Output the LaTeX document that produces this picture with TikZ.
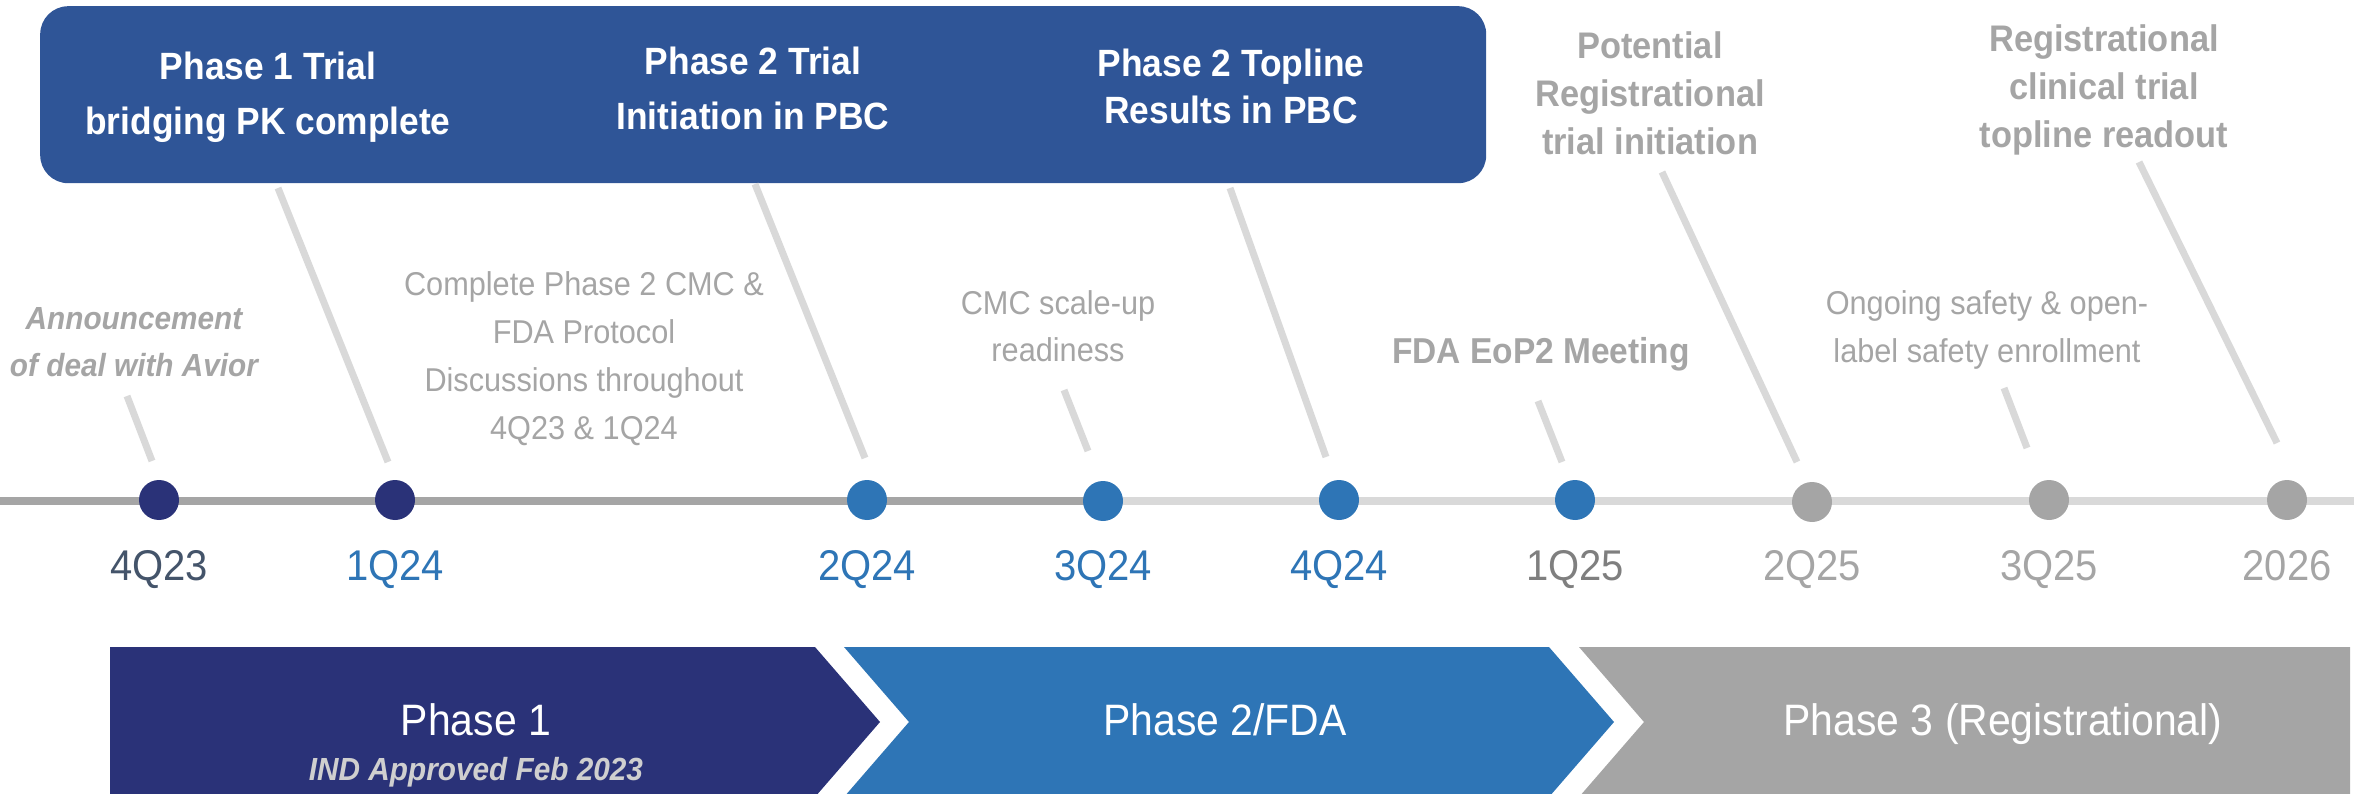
\documentclass[tikz,border=0pt]{standalone}
\usepackage{fontspec}
\setmainfont[FakeStretch=0.93]{Liberation Sans}
\usetikzlibrary{calc}

\definecolor{boxblue}{HTML}{2F5597}
\definecolor{navy}{HTML}{2A3278}
\definecolor{midblue}{HTML}{2E75B6}
\definecolor{gfive}{HTML}{A5A5A5}
\definecolor{gpale}{HTML}{D9D9D9}
\definecolor{slate}{HTML}{44546A}
\definecolor{gdark}{HTML}{7F7F7F}
\definecolor{indgrey}{HTML}{CFCFCF}

% first-line-baseline stack of centred lines
\newcommand{\stack}[1]{\begin{tabular}[t]{@{}c@{}}#1\end{tabular}}
\newcommand{\fsz}[2]{\fontsize{#1}{#2}\selectfont}

\begin{document}
\begin{tikzpicture}[x=1pt,y=-1pt,
  txt/.style={anchor=base, inner sep=0pt},
  hdr/.style={txt, text=white, font=\bfseries\fsz{38}{55}},
  gbold/.style={txt, text=gfive, font=\bfseries\fsz{37}{48}},
  note/.style={txt, text=gfive, font=\fsz{33}{48}},
  qlab/.style={txt, font=\fsz{43}{50}},
  phase/.style={txt, text=white, font=\fsz{44}{45}},
  dot/.style={circle, minimum size=40pt, inner sep=0pt},
  leader/.style={draw=gpale, line width=7pt},
  axis/.style={line width=8pt},
]
\useasboundingbox (0,0) rectangle (2354,794);

% milestone banner
\node[fill=boxblue, rounded corners=28pt, minimum width=1446pt, minimum height=177pt,
      anchor=north west, inner sep=0pt] (banner) at (40,6) {};

% leader lines
\coordinate (l1a) at (127,396);  \coordinate (l1b) at (152,461);
\coordinate (l2a) at (278,188);  \coordinate (l2b) at (388,462);
\coordinate (l3a) at (755,184);  \coordinate (l3b) at (865,458);
\coordinate (l4a) at (1064,390); \coordinate (l4b) at (1088,451);
\coordinate (l5a) at (1230,188); \coordinate (l5b) at (1326,457);
\coordinate (l6a) at (1538,401); \coordinate (l6b) at (1562,462);
\coordinate (l7a) at (1662,172); \coordinate (l7b) at (1797,462);
\coordinate (l8a) at (2004,388); \coordinate (l8b) at (2027,448);
\coordinate (l9a) at (2139,162); \coordinate (l9b) at (2277,443);
\foreach \i in {1,...,9} { \draw[leader] (l\i a) -- (l\i b); }

% timeline axis: elapsed part darker, up to the current quarter
\coordinate (tl0) at (0,501);
\coordinate (now) at (1103,501);
\coordinate (tl1) at (2354,501);
\draw[axis, gfive] (tl0) -- (now);
\draw[axis, gpale] (now) -- (tl1);

% quarter dots
\node[dot, fill=navy]    (d1) at (159,500) {};
\node[dot, fill=navy]    (d2) at (395,500) {};
\node[dot, fill=midblue] (d3) at (867,500) {};
\node[dot, fill=midblue] (d4) at (now) {};
\node[dot, fill=midblue] (d5) at (1339,500) {};
\node[dot, fill=midblue] (d6) at (1575,500) {};
\node[dot, fill=gfive]   (d7) at (1812,502) {};
\node[dot, fill=gfive]   (d8) at (2049,500) {};
\node[dot, fill=gfive]   (d9) at (2287,500) {};

% quarter labels
\coordinate (qbase) at (0,580);
\node[qlab, text=slate]   (q1) at (d1 |- qbase) {4Q23};
\node[qlab, text=midblue] (q2) at (d2 |- qbase) {1Q24};
\node[qlab, text=midblue] (q3) at (d3 |- qbase) {2Q24};
\node[qlab, text=midblue] (q4) at (d4 |- qbase) {3Q24};
\node[qlab, text=midblue] (q5) at (d5 |- qbase) {4Q24};
\node[qlab, text=gdark]   (q6) at (d6 |- qbase) {1Q25};
\node[qlab, text=gfive]   (q7) at (d7 |- qbase) {2Q25};
\node[qlab, text=gfive]   (q8) at (d8 |- qbase) {3Q25};
\node[qlab, text=gfive]   (q9) at (d9 |- qbase) {2026};

% banner milestones
\node[hdr] (m1) at (268,80) {\stack{Phase 1 Trial\\bridging PK complete}};
\node[hdr] (m2) at (753,75) {\stack{Phase 2 Trial\\Initiation in PBC}};
\node[hdr, font=\bfseries\fsz{38}{47}] (m3) at (1231,77) {\stack{Phase 2 Topline\\Results in PBC}};

% future milestones
\node[gbold] (m4) at (1650,59) {\stack{Potential\\Registrational\\trial initiation}};
\node[gbold] (m5) at (2104,52) {\stack{Registrational\\clinical trial\\topline readout}};
\node[gbold, font=\bfseries\fsz{36}{48}] (m6) at (1541,363) {FDA EoP2 Meeting};

% notes
\node[txt, text=gfive, font=\bfseries\itshape\fsz{32}{47}] (n1) at (134,330)
  {\stack{Announcement\\of deal with Avior}};
\node[note] (n2) at (584,296)
  {\stack{Complete Phase 2 CMC \&\\FDA Protocol\\Discussions throughout\\4Q23 \& 1Q24}};
\node[note, font=\fsz{33}{47}] (n3) at (1058,315) {\stack{CMC scale-up\\readiness}};
\node[note] (n4) at (1987,315) {\stack{Ongoing safety \& open-\\label safety enrollment}};

% phase chevrons
\fill[navy]    (110,647) -- (815,647) -- (880,722) -- (815,797) -- (110,797) -- cycle;
\fill[midblue] (844,647) -- (1549,647) -- (1614,722) -- (1549,797) -- (844,797) -- (909,722) -- cycle;
\fill[gfive]   (1579,647) -- (2350,647) -- (2350,797) -- (1579,797) -- (1644,722) -- cycle;

\node[phase] (p1) at (476,735)
  {\stack{Phase 1\\\color{indgrey}\bfseries\itshape\fsz{32}{38}IND Approved Feb 2023}};
\node[phase] (p2) at (1225,735) {Phase 2/FDA};
\node[phase] (p3) at (2003,735) {Phase 3 (Registrational)};
\end{tikzpicture}
\end{document}
